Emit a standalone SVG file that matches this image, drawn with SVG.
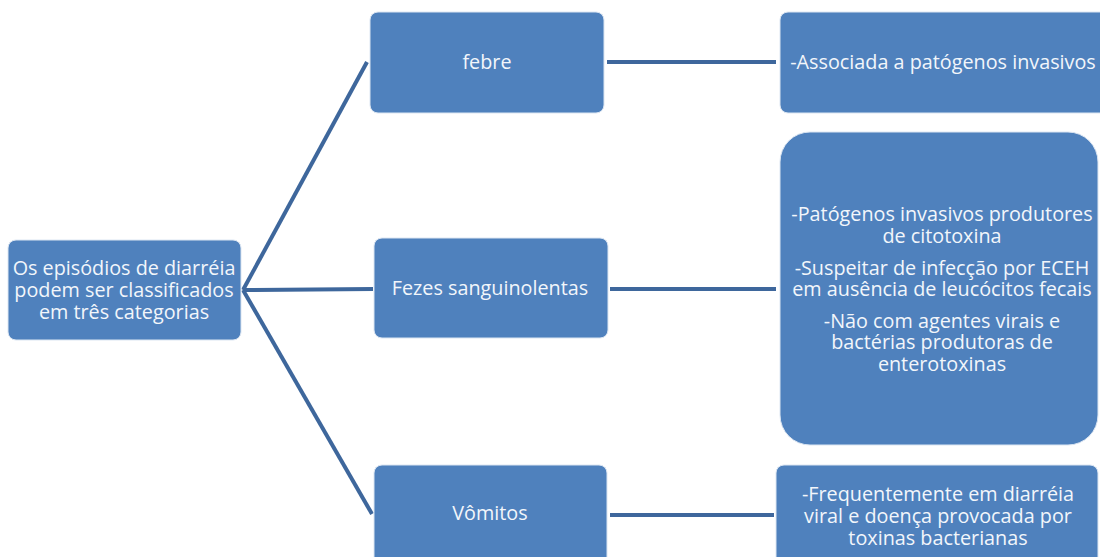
<svg xmlns="http://www.w3.org/2000/svg" width="1100" height="557" viewBox="0 0 1100 557">
<style>
.box{fill:#4F81BD;stroke:#DCE6F2;stroke-width:1}
.t{font-family:"Open Sans","Liberation Sans",sans-serif;font-size:19.8px;fill:#F2F6FB;text-anchor:middle}
.c{stroke:#3E679C;stroke-width:4;fill:none}
</style>
<rect width="1100" height="557" fill="#FFFFFF"/>
<g id="connectors">
<line class="c" x1="243" y1="290" x2="367" y2="62"/>
<line class="c" x1="243" y1="290" x2="373" y2="289"/>
<line class="c" x1="243" y1="290" x2="372" y2="514"/>
<line class="c" x1="607" y1="62" x2="776" y2="62"/>
<line class="c" x1="610" y1="289" x2="776" y2="289"/>
<line class="c" x1="610" y1="515" x2="774" y2="515"/>
</g>
<g id="root">
<rect class="box" x="8" y="240" width="233" height="100" rx="8"/>
<text class="t" x="124" y="275">Os episódios de diarréia</text>
<text class="t" x="124" y="297">podem ser classificados</text>
<text class="t" x="124" y="319">em três categorias</text>
</g>
<g id="febre">
<rect class="box" x="370" y="12" width="234" height="101" rx="8"/>
<text class="t" x="487" y="69">febre</text>
</g>
<g id="fezes">
<rect class="box" x="374" y="238" width="234" height="100" rx="8"/>
<text class="t" x="490" y="295">Fezes sanguinolentas</text>
</g>
<g id="vomitos">
<rect class="box" x="374" y="465" width="233" height="110" rx="8"/>
<text class="t" x="490" y="520">Vômitos</text>
</g>
<g id="febre-desc">
<rect class="box" x="780" y="12" width="340" height="101" rx="8"/>
<text class="t" x="943" y="69">-Associada a patógenos invasivos</text>
</g>
<g id="fezes-desc">
<rect class="box" x="780" y="132" width="318" height="313" rx="30"/>
<text class="t" x="942" y="221">-Patógenos invasivos produtores</text>
<text class="t" x="942" y="243">de citotoxina</text>
<text class="t" x="942" y="275">-Suspeitar de infecção por ECEH</text>
<text class="t" x="942" y="296">em ausência de leucócitos fecais</text>
<text class="t" x="942" y="328">-Não com agentes virais e</text>
<text class="t" x="942" y="349">bactérias produtoras de</text>
<text class="t" x="942" y="371">enterotoxinas</text>
</g>
<g id="vomitos-desc">
<rect class="box" x="776" y="465" width="322" height="110" rx="8"/>
<text class="t" x="938" y="501">-Frequentemente em diarréia</text>
<text class="t" x="938" y="523">viral e doença provocada por</text>
<text class="t" x="938" y="545">toxinas bacterianas</text>
</g>
</svg>
